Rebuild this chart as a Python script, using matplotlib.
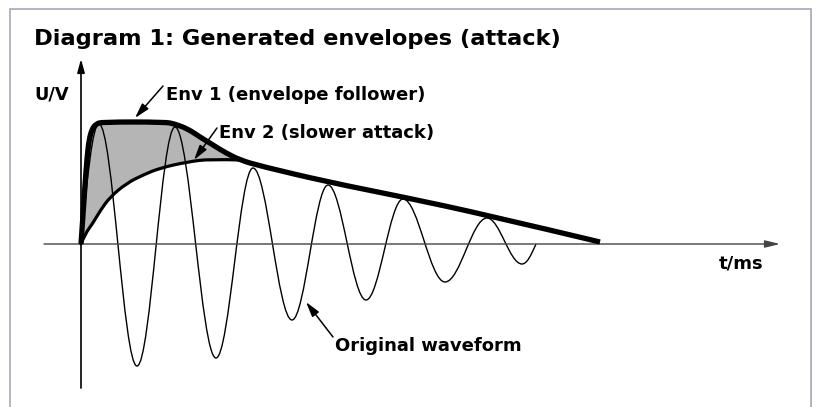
import numpy as np
import matplotlib
matplotlib.use('Agg')
import matplotlib.pyplot as plt
from matplotlib.path import Path
from matplotlib.patches import PathPatch, Rectangle

plt.rcParams['font.family'] = ['DejaVu Sans']
plt.rcParams['font.weight'] = 'bold'

# original waveform: zero crossing at start/end, then alternating extrema
wave_t = [0.0, 0.18, 0.56, 0.94, 1.35, 1.72, 2.11, 2.47, 2.85, 3.22, 3.64, 4.06, 4.41, 4.55]
wave_u = [0.0, 1.20, -1.22, 1.17, -1.14, 0.76, -0.76, 0.59, -0.56, 0.45, -0.38, 0.26, -0.20, 0.0]

# Env 1 (envelope follower)
env1_t = [0.0, 0.02, 0.04, 0.06, 0.08, 0.11, 0.15, 0.21, 0.84, 0.94, 1.07, 1.19,
          1.32, 1.45, 1.59, 1.79, 2.47, 3.22, 4.06, 5.19]
env1_u = [0.0, 0.29, 0.59, 0.86, 1.04, 1.15, 1.20, 1.22, 1.22, 1.20, 1.15, 1.07,
          0.99, 0.91, 0.84, 0.78, 0.62, 0.47, 0.29, 0.02]

# Env 2 (slower attack), runs into Env 1 where they meet
env2_t = [0.0, 0.04, 0.12, 0.19, 0.29, 0.46, 0.62, 0.79, 1.06, 1.29, 1.59]
env2_u = [0.0, 0.10, 0.21, 0.33, 0.47, 0.61, 0.69, 0.76, 0.82, 0.85, 0.84]
merge_idx = 14  # index in env1 where env2 meets it


def smooth_verts(ts, us):
    # quadratic bezier through the midpoints, points act as control points
    pts = list(zip(ts, us))
    verts = [pts[0]]
    codes = [Path.MOVETO]
    for i in range(1, len(pts) - 1):
        mid = ((pts[i][0] + pts[i + 1][0]) / 2, (pts[i][1] + pts[i + 1][1]) / 2)
        if i == len(pts) - 2:
            mid = pts[-1]
        verts += [pts[i], mid]
        codes += [Path.CURVE3, Path.CURVE3]
    return verts, codes


fig = plt.figure(figsize=(8.2, 4.07), dpi=100)
ax = fig.add_axes([0, 0, 1, 1])
ax.set_xlim(-0.81, 7.39)
ax.set_ylim(-1.63, 2.44)
ax.axis('off')

# frame around the whole diagram
fig.patches.append(Rectangle((10 / 820, -0.05), 801 / 820, 1.05 - 9 / 407,
                             transform=fig.transFigure, fill=False,
                             edgecolor='#a9a5bb', lw=1.2))

# axes with arrow heads
ax.annotate('', xy=(6.99, 0), xytext=(-0.37, 0),
            arrowprops=dict(arrowstyle='-|>,head_length=0.9,head_width=0.22',
                            color='#444444', lw=1.0, shrinkA=0, shrinkB=0))
ax.annotate('', xy=(0, 1.85), xytext=(0, -1.44),
            arrowprops=dict(arrowstyle='-|>,head_length=0.8,head_width=0.22',
                            color='black', lw=1.2, shrinkA=0, shrinkB=0))

# gray area between the two envelopes
v1, c1 = smooth_verts(env1_t[:merge_idx + 1], env1_u[:merge_idx + 1])
v2, c2 = smooth_verts(env2_t[::-1], env2_u[::-1])
c2 = [Path.LINETO] + c2[1:]
fill_path = Path(v1 + v2 + [v1[0]], c1 + c2 + [Path.CLOSEPOLY])
ax.add_patch(PathPatch(fill_path, facecolor='#b5b5b5', lw=0, zorder=1))

# waveform as bezier segments between extrema
k = 0.36
verts = [(wave_t[0], wave_u[0])]
codes = [Path.MOVETO]
for i in range(len(wave_t) - 1):
    t0, u0, t1, u1 = wave_t[i], wave_u[i], wave_t[i + 1], wave_u[i + 1]
    dt = t1 - t0
    s0 = (u1 * np.pi / 2 / dt) if u0 == 0 else 0.0
    s1 = (-u0 * np.pi / 2 / dt) if u1 == 0 else 0.0
    verts += [(t0 + k * dt, u0 + s0 * k * dt), (t1 - k * dt, u1 - s1 * k * dt), (t1, u1)]
    codes += [Path.CURVE4] * 3
ax.add_patch(PathPatch(Path(verts, codes), fill=False, edgecolor='black', lw=1.0, zorder=2))

v, c = smooth_verts(env2_t, env2_u)
ax.add_patch(PathPatch(Path(v, c), fill=False, edgecolor='black', lw=2.3,
                       capstyle='round', zorder=3))
v, c = smooth_verts(env1_t, env1_u)
ax.add_patch(PathPatch(Path(v, c), fill=False, edgecolor='black', lw=3.8,
                       capstyle='butt', joinstyle='round', zorder=4))

# texts
ax.text(-0.47, 1.99, 'Diagram 1: Generated envelopes (attack)', fontsize=16.2,
        fontweight='bold', va='baseline', ha='left')
ax.text(-0.47, 1.45, 'U/V', fontsize=12.8, fontweight='bold', va='baseline')
ax.text(0.85, 1.44, 'Env 1 (envelope follower)', fontsize=13, fontweight='bold', va='baseline')
ax.text(1.38, 1.06, 'Env 2 (slower attack)', fontsize=13, fontweight='bold', va='baseline')
ax.text(6.38, -0.24, 't/ms', fontsize=13, fontweight='bold', va='baseline')
ax.text(2.54, -1.07, 'Original waveform', fontsize=13, fontweight='bold', va='baseline')

# pointer arrows
arrow = dict(arrowstyle='-|>,head_length=0.9,head_width=0.25', color='black',
             lw=1.1, shrinkA=0, shrinkB=0)
ax.annotate('', xy=(0.54, 1.26), xytext=(0.82, 1.58), arrowprops=arrow, zorder=5)
ax.annotate('', xy=(1.13, 0.84), xytext=(1.36, 1.16), arrowprops=arrow, zorder=5)
ax.annotate('', xy=(2.25, -0.58), xytext=(2.52, -0.93), arrowprops=arrow, zorder=5)

fig.savefig('out.png', dpi=100, facecolor='white')
